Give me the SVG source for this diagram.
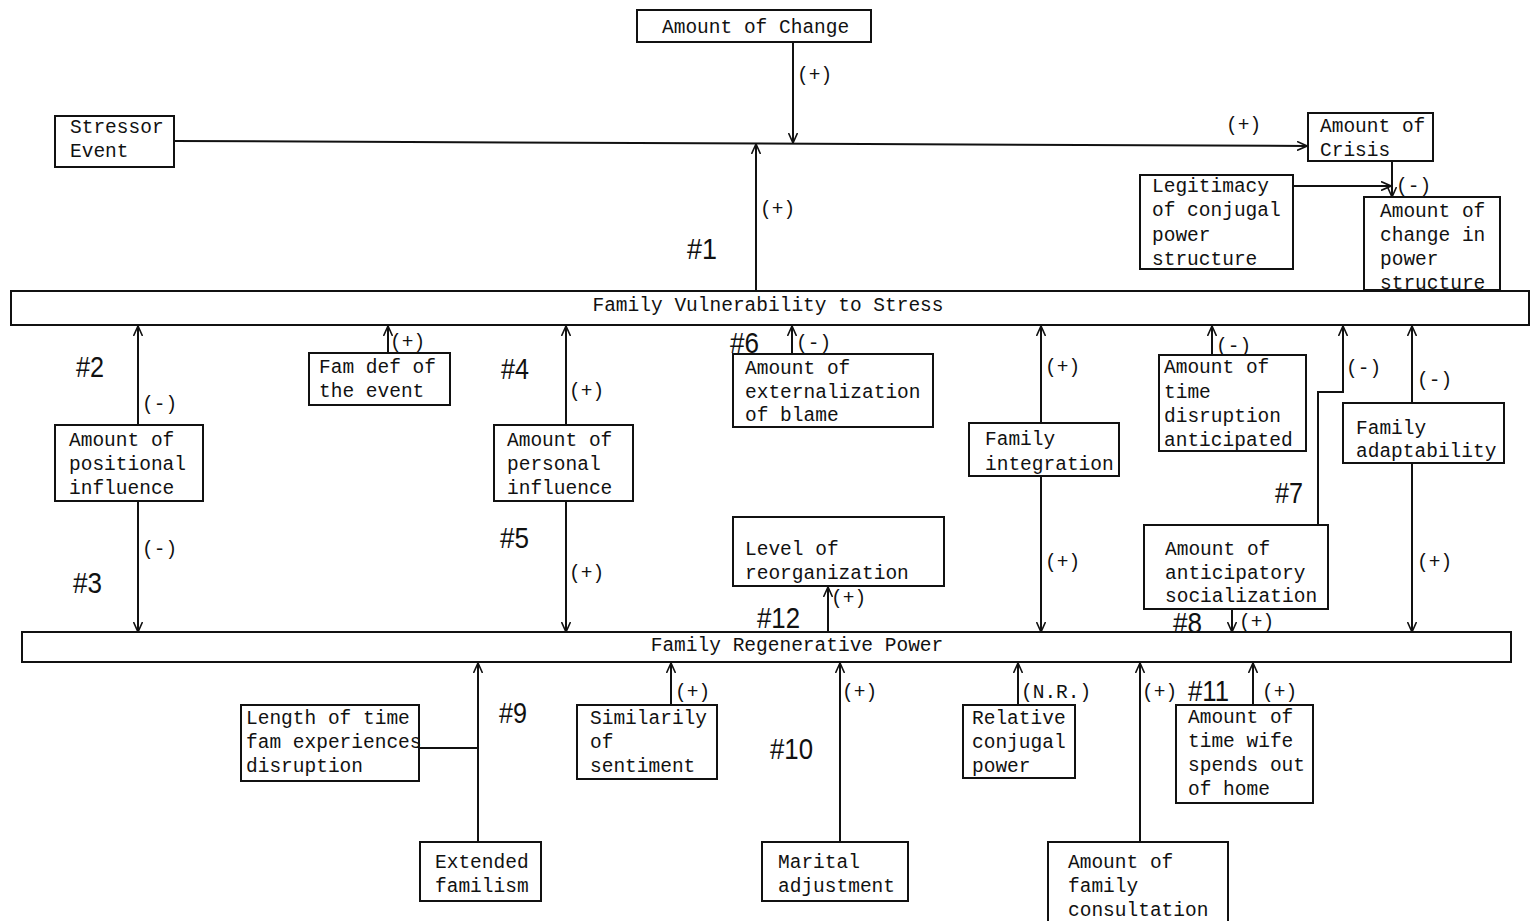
<svg xmlns="http://www.w3.org/2000/svg" width="1530" height="921" viewBox="0 0 1530 921">
<style>
.box{fill:#fff;stroke:#111;stroke-width:2}
.t{font-family:"Liberation Mono","DejaVu Sans Mono",monospace;font-size:19.5px;fill:#111}
.n{font-family:"Liberation Sans","DejaVu Sans",sans-serif;font-size:30px;fill:#111}
.c{fill:none;stroke:#111;stroke-width:2}
</style>
<defs>
<marker id="a" viewBox="0 0 10 10" refX="10" refY="5" markerWidth="10" markerHeight="10" markerUnits="userSpaceOnUse" orient="auto">
<path d="M0,0.5 L10,5 L0,9.5" fill="none" stroke="#111" stroke-width="1.6"/>
</marker>
</defs>
<rect width="1530" height="921" fill="#fff"/>

<g id="connectors">
<line class="c" x1="793" y1="42" x2="793" y2="143" marker-end="url(#a)"/>
<line class="c" x1="174" y1="141" x2="1307" y2="146" marker-end="url(#a)"/>
<line class="c" x1="756" y1="290" x2="756" y2="144" marker-end="url(#a)"/>
<line class="c" x1="1392" y1="161" x2="1392" y2="197" marker-end="url(#a)"/>
<line class="c" x1="1293" y1="186" x2="1391" y2="186" marker-end="url(#a)"/>
<line class="c" x1="138" y1="425" x2="138" y2="326" marker-end="url(#a)"/>
<line class="c" x1="138" y1="501" x2="138" y2="632" marker-end="url(#a)"/>
<line class="c" x1="388" y1="353" x2="388" y2="326" marker-end="url(#a)"/>
<line class="c" x1="566" y1="425" x2="566" y2="326" marker-end="url(#a)"/>
<line class="c" x1="566" y1="501" x2="566" y2="632" marker-end="url(#a)"/>
<line class="c" x1="792" y1="354" x2="792" y2="326" marker-end="url(#a)"/>
<line class="c" x1="1041" y1="423" x2="1041" y2="326" marker-end="url(#a)"/>
<line class="c" x1="1041" y1="476" x2="1041" y2="632" marker-end="url(#a)"/>
<line class="c" x1="1212" y1="355" x2="1212" y2="326" marker-end="url(#a)"/>
<polyline class="c" points="1318,525 1318,392 1343,392 1343,326" marker-end="url(#a)"/>
<line class="c" x1="1412" y1="403" x2="1412" y2="326" marker-end="url(#a)"/>
<line class="c" x1="1412" y1="463" x2="1412" y2="632" marker-end="url(#a)"/>
<line class="c" x1="1232" y1="609" x2="1232" y2="632" marker-end="url(#a)"/>
<line class="c" x1="828" y1="632" x2="828" y2="587" marker-end="url(#a)"/>
<line class="c" x1="478" y1="842" x2="478" y2="663" marker-end="url(#a)"/>
<line class="c" x1="419" y1="748" x2="478" y2="748"/>
<line class="c" x1="671" y1="705" x2="671" y2="663" marker-end="url(#a)"/>
<line class="c" x1="840" y1="842" x2="840" y2="663" marker-end="url(#a)"/>
<line class="c" x1="1018" y1="705" x2="1018" y2="663" marker-end="url(#a)"/>
<line class="c" x1="1140" y1="842" x2="1140" y2="663" marker-end="url(#a)"/>
<line class="c" x1="1253" y1="705" x2="1253" y2="663" marker-end="url(#a)"/>
</g>

<g id="labels">
<text class="t" x="797" y="81">(+)</text>
<text class="t" x="1226" y="131">(+)</text>
<text class="t" x="1396" y="192">(-)</text>
<text class="t" x="760" y="215">(+)</text>
<text class="t" x="142" y="410">(-)</text>
<text class="t" x="142" y="555">(-)</text>
<text class="t" x="390" y="348">(+)</text>
<text class="t" x="569" y="397">(+)</text>
<text class="t" x="569" y="579">(+)</text>
<text class="t" x="796" y="349">(-)</text>
<text class="t" x="831" y="604">(+)</text>
<text class="t" x="1045" y="373">(+)</text>
<text class="t" x="1045" y="568">(+)</text>
<text class="t" x="1216" y="352">(-)</text>
<text class="t" x="1346" y="374">(-)</text>
<text class="t" x="1417" y="386">(-)</text>
<text class="t" x="1417" y="568">(+)</text>
<text class="t" x="1239" y="628">(+)</text>
<text class="t" x="675" y="698">(+)</text>
<text class="t" x="842" y="698">(+)</text>
<text class="t" x="1021" y="698">(N.R.)</text>
<text class="t" x="1142" y="698">(+)</text>
<text class="t" x="1262" y="698">(+)</text>
<text class="n" x="687" y="259" textLength="30" lengthAdjust="spacingAndGlyphs">#1</text>
<text class="n" x="76" y="377" textLength="28" lengthAdjust="spacingAndGlyphs">#2</text>
<text class="n" x="73" y="593" textLength="29" lengthAdjust="spacingAndGlyphs">#3</text>
<text class="n" x="501" y="379" textLength="28" lengthAdjust="spacingAndGlyphs">#4</text>
<text class="n" x="500" y="548" textLength="29" lengthAdjust="spacingAndGlyphs">#5</text>
<text class="n" x="730" y="353" font-size="28" textLength="29" lengthAdjust="spacingAndGlyphs">#6</text>
<text class="n" x="1275" y="503" textLength="28" lengthAdjust="spacingAndGlyphs">#7</text>
<text class="n" x="1173" y="633" font-size="28" textLength="29" lengthAdjust="spacingAndGlyphs">#8</text>
<text class="n" x="499" y="723" textLength="28" lengthAdjust="spacingAndGlyphs">#9</text>
<text class="n" x="770" y="759" textLength="43" lengthAdjust="spacingAndGlyphs">#10</text>
<text class="n" x="1188" y="701" textLength="41" lengthAdjust="spacingAndGlyphs">#11</text>
<text class="n" x="757" y="628" textLength="43" lengthAdjust="spacingAndGlyphs">#12</text>
</g>

<g id="amount-of-change"><rect class="box" x="637" y="10" width="234" height="32"/><text class="t" x="662" y="33">Amount of Change</text></g>
<g id="stressor-event"><rect class="box" x="55" y="116" width="119" height="51"/><text class="t" x="70" y="133">Stressor</text><text class="t" x="70" y="157">Event</text></g>
<g id="amount-of-crisis"><rect class="box" x="1308" y="113" width="125" height="48"/><text class="t" x="1320" y="132">Amount of</text><text class="t" x="1320" y="156">Crisis</text></g>
<g id="legitimacy"><rect class="box" x="1140" y="175" width="153" height="94"/><text class="t" x="1152" y="192">Legitimacy</text><text class="t" x="1152" y="216">of conjugal</text><text class="t" x="1152" y="241">power</text><text class="t" x="1152" y="265">structure</text></g>
<g id="change-in-power"><rect class="box" x="1364" y="197" width="136" height="93"/><text class="t" x="1380" y="217">Amount of</text><text class="t" x="1380" y="241">change in</text><text class="t" x="1380" y="265">power</text><text class="t" x="1380" y="289">structure</text></g>
<g id="family-vulnerability"><rect class="box" x="11" y="291" width="1518" height="34"/><text class="t" x="768" y="311" text-anchor="middle">Family Vulnerability to Stress</text></g>
<g id="positional-influence"><rect class="box" x="55" y="425" width="148" height="76"/><text class="t" x="69" y="446">Amount of</text><text class="t" x="69" y="470">positional</text><text class="t" x="69" y="494">influence</text></g>
<g id="fam-def"><rect class="box" x="309" y="353" width="141" height="52"/><text class="t" x="319" y="373">Fam def of</text><text class="t" x="319" y="397">the event</text></g>
<g id="personal-influence"><rect class="box" x="494" y="425" width="139" height="76"/><text class="t" x="507" y="446">Amount of</text><text class="t" x="507" y="470">personal</text><text class="t" x="507" y="494">influence</text></g>
<g id="externalization"><rect class="box" x="733" y="354" width="200" height="73"/><text class="t" x="745" y="374">Amount of</text><text class="t" x="745" y="398">externalization</text><text class="t" x="745" y="421">of blame</text></g>
<g id="reorganization"><rect class="box" x="733" y="517" width="211" height="69"/><text class="t" x="745" y="555">Level of</text><text class="t" x="745" y="579">reorganization</text></g>
<g id="family-integration"><rect class="box" x="969" y="423" width="150" height="53"/><text class="t" x="985" y="445">Family</text><text class="t" x="985" y="470">integration</text></g>
<g id="time-disruption"><rect class="box" x="1159" y="355" width="147" height="96"/><text class="t" x="1164" y="373">Amount of</text><text class="t" x="1164" y="398">time</text><text class="t" x="1164" y="422">disruption</text><text class="t" x="1164" y="446">anticipated</text></g>
<g id="family-adaptability"><rect class="box" x="1343" y="403" width="161" height="60"/><text class="t" x="1356" y="434">Family</text><text class="t" x="1356" y="457">adaptability</text></g>
<g id="anticipatory-socialization"><rect class="box" x="1144" y="525" width="184" height="84"/><text class="t" x="1165" y="555">Amount of</text><text class="t" x="1165" y="579">anticipatory</text><text class="t" x="1165" y="602">socialization</text></g>
<g id="family-regenerative"><rect class="box" x="22" y="632" width="1489" height="30"/><text class="t" x="797" y="651" text-anchor="middle">Family Regenerative Power</text></g>
<g id="length-of-time"><rect class="box" x="241" y="705" width="178" height="76"/><text class="t" x="246" y="724">Length of time</text><text class="t" x="246" y="748">fam experiences</text><text class="t" x="246" y="772">disruption</text></g>
<g id="extended-familism"><rect class="box" x="420" y="842" width="121" height="59"/><text class="t" x="435" y="868">Extended</text><text class="t" x="435" y="892">familism</text></g>
<g id="similarity"><rect class="box" x="577" y="705" width="140" height="74"/><text class="t" x="590" y="724">Similarily</text><text class="t" x="590" y="748">of</text><text class="t" x="590" y="772">sentiment</text></g>
<g id="marital-adjustment"><rect class="box" x="762" y="842" width="146" height="59"/><text class="t" x="778" y="868">Marital</text><text class="t" x="778" y="892">adjustment</text></g>
<g id="relative-conjugal-power"><rect class="box" x="963" y="705" width="112" height="73"/><text class="t" x="972" y="724">Relative</text><text class="t" x="972" y="748">conjugal</text><text class="t" x="972" y="772">power</text></g>
<g id="family-consultation"><rect class="box" x="1048" y="842" width="180" height="90"/><text class="t" x="1068" y="868">Amount of</text><text class="t" x="1068" y="892">family</text><text class="t" x="1068" y="916">consultation</text></g>
<g id="time-wife-out"><rect class="box" x="1176" y="705" width="137" height="98"/><text class="t" x="1188" y="723">Amount of</text><text class="t" x="1188" y="747">time wife</text><text class="t" x="1188" y="771">spends out</text><text class="t" x="1188" y="795">of home</text></g>
</svg>
